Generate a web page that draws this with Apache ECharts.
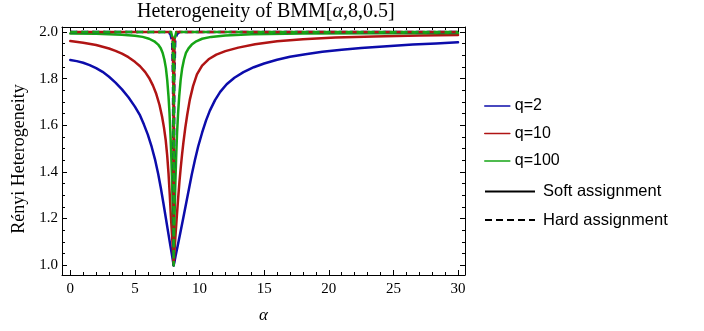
<!DOCTYPE html>
<html><head><meta charset="utf-8">
<script src="https://cdn.jsdelivr.net/npm/echarts@6/dist/echarts.min.js"></script>
<style>html,body{margin:0;padding:0;background:#fff}#c{width:704px;height:331px}</style>
</head><body><div id="c"></div>
<script>
// ---- data ----
const alphaSoftQ2 = [0,0.5,1,1.5,2,2.5,3,3.5,4,4.5,5,5.4,5.7,6.0,6.3,6.55,6.8,7.0,7.2,7.4,7.6,7.75,7.88,7.96,8,
  8.05,8.15,8.3,8.5,8.75,9.0,9.2,9.4,9.65,9.9,10.2,10.5,10.8,11.2,11.6,12.1,12.7,13.4,14.2,15,16,17,18.2,19.5,21,22.5,24.5,26.5,28.3,30];
const softQ2 = [1.880,1.875,1.868,1.858,1.845,1.829,1.808,1.783,1.754,1.720,1.680,1.642,1.603,1.560,1.507,1.455,1.392,1.333,1.268,1.200,1.132,1.082,1.040,1.013,1.0,
  1.012,1.040,1.080,1.135,1.205,1.275,1.332,1.389,1.452,1.510,1.568,1.620,1.663,1.708,1.743,1.776,1.804,1.828,1.849,1.865,1.881,1.894,1.905,1.915,1.924,1.931,1.939,1.946,1.951,1.956];

const alphaSoftQ10 = [0,1,2,3,3.5,4,4.5,5,5.4,5.8,6.1,6.4,6.65,6.9,7.1,7.25,7.38,7.5,7.6,7.7,7.78,7.85,7.92,7.97,8,
  8.03,8.08,8.15,8.25,8.35,8.45,8.55,8.65,8.75,8.9,9.05,9.25,9.5,9.8,10.2,10.7,11.3,12,13,14.3,16,18,20.5,23.5,27,30];
const softQ10 = [1.961,1.954,1.944,1.929,1.919,1.907,1.892,1.872,1.853,1.828,1.803,1.770,1.735,1.688,1.638,1.590,1.538,1.470,1.395,1.300,1.215,1.150,1.085,1.035,1.0,
  1.030,1.075,1.135,1.215,1.290,1.360,1.420,1.475,1.525,1.590,1.645,1.710,1.768,1.818,1.856,1.883,1.903,1.918,1.933,1.947,1.960,1.969,1.976,1.981,1.985,1.987];

const alphaSoftQ100 = [0,2,4,5,5.6,6.1,6.5,6.8,7.0,7.15,7.28,7.4,7.5,7.6,7.68,7.75,7.82,7.88,7.93,7.97,8,
  8.03,8.08,8.13,8.19,8.26,8.34,8.43,8.54,8.66,8.8,8.95,9.15,9.4,9.75,10.2,10.9,12,14,18,24,30];
const softQ100 = [1.993,1.992,1.988,1.984,1.979,1.971,1.960,1.946,1.930,1.910,1.882,1.845,1.795,1.725,1.650,1.565,1.460,1.350,1.240,1.120,1.0,
  1.120,1.240,1.350,1.460,1.565,1.650,1.725,1.795,1.845,1.882,1.910,1.930,1.946,1.960,1.971,1.979,1.985,1.990,1.993,1.995,1.996];

const alphaHardQ2 = [0,7.55,7.75,7.88,7.95,8,8.05,8.12,8.25,8.45,30];
const hardQ2 = [2,2,1.99,1.96,1.8,1.0,1.8,1.96,1.99,2,2];
const alphaHardQ10 = [0,7.8,7.93,7.98,8,8.02,8.07,8.2,30];
const hardQ10 = [2,2,1.97,1.75,1.0,1.75,1.97,2,2];
const alphaHardQ100 = [0,7.8,7.93,7.98,8,8.02,8.07,8.2,30];
const hardQ100 = [2,2,1.97,1.75,1.0,1.75,1.97,2,2];

const xMajorTicks = [0,5,10,15,20,25,30];
const xMinorTicks = [1,2,3,4,6,7,8,9,11,12,13,14,16,17,18,19,21,22,23,24,26,27,28,29];
const yMajorTicks = [1.0,1.2,1.4,1.6,1.8,2.0];
const yMinorTicks = [1.05,1.1,1.15,1.25,1.3,1.35,1.45,1.5,1.55,1.65,1.7,1.75,1.85,1.9,1.95];
const seriesNames = ['q=2','q=10','q=100'];
const styleNames = ['Soft assignment','Hard assignment'];

// ---- styling ----
const X_MIN = -0.64, X_MAX = 30.54, Y_MIN = 0.958, Y_MAX = 2.0214;
const colors = ['#0c0cab','#b01414','#16a516'];
const serif = 'Liberation Serif';
const sans = 'Liberation Sans';
const DASH = [7,4];

function zip(xs, ys){ return xs.map((x,i)=>[x,ys[i]]); }

function xAx(pos, ticks, len, labels, line){
  return {type:'value', min:X_MIN, max:X_MAX, position:pos, offset:0,
    axisLine:{show:line, onZero:false, lineStyle:{color:'#000', width:1}},
    axisTick:{show:true, inside:true, length:len, customValues:ticks, lineStyle:{color:'#000', width:1}},
    axisLabel:{show:labels, customValues:ticks, margin:7, color:'#000', fontFamily:serif, fontSize:15},
    splitLine:{show:false}, minorTick:{show:false}};
}
function yAx(pos, ticks, len, labels, line){
  return {type:'value', min:Y_MIN, max:Y_MAX, position:pos, offset:0,
    axisLine:{show:line, onZero:false, lineStyle:{color:'#000', width:1}},
    axisTick:{show:true, inside:true, length:len, customValues:ticks, lineStyle:{color:'#000', width:1}},
    axisLabel:{show:labels, customValues:ticks, margin:4, color:'#000', fontFamily:serif, fontSize:15,
      formatter:v=>Number(v).toFixed(1)},
    splitLine:{show:false}, minorTick:{show:false}};
}

const xAxes = [
  xAx('bottom', xMajorTicks, 5, true, true),
  xAx('bottom', xMinorTicks, 3, false, false),
  xAx('top', xMajorTicks, 5, false, true),
  xAx('top', xMinorTicks, 3, false, false)
];
Object.assign(xAxes[0], {name:'α', nameLocation:'middle', nameGap:32,
  nameTextStyle:{fontFamily:serif, fontSize:17, fontStyle:'italic', color:'#000'}});
const yAxes = [
  yAx('left', yMajorTicks, 5, true, true),
  yAx('left', yMinorTicks, 3, false, false),
  yAx('right', yMajorTicks, 5, false, true),
  yAx('right', yMinorTicks, 3, false, false)
];
Object.assign(yAxes[0], {name:'Rényi Heterogeneity', nameLocation:'middle', nameGap:33, nameRotate:90,
  nameTextStyle:{fontFamily:serif, fontSize:18, color:'#000', padding:[0,16,0,0]}});

const softData = [zip(alphaSoftQ2, softQ2), zip(alphaSoftQ10, softQ10), zip(alphaSoftQ100, softQ100)];
const hardData = [zip(alphaHardQ2, hardQ2), zip(alphaHardQ10, hardQ10), zip(alphaHardQ100, hardQ100)];

const series = [];
softData.forEach((d,i)=>series.push({name:seriesNames[i], type:'line', data:d, symbol:'none', smooth:false,
  xAxisIndex:0, yAxisIndex:0, color:colors[i], animation:false,
  lineStyle:{color:colors[i], width:2.5, join:'round', cap:'round'}, z:2}));
hardData.forEach((d,i)=>series.push({name:'hard '+seriesNames[i], type:'line', data:d, symbol:'none',
  xAxisIndex:0, yAxisIndex:0, color:colors[i], animation:false,
  lineStyle:{color:colors[i], width:2.5, type:DASH, dashOffset: i===1?5:0, join:'round'}, z:3+i}));
series.push({name:styleNames[0], type:'line', data:[], symbol:'none', color:'#000',
  lineStyle:{color:'#000', width:2.5}});
series.push({name:styleNames[1], type:'line', data:[], symbol:'none', color:'#000',
  lineStyle:{color:'#000', width:2, type:DASH}});

const chart = echarts.init(document.getElementById('c'), null, {renderer:'canvas'});
chart.setOption({
  animation:false,
  backgroundColor:'#fff',
  title:{text:'{n|Heterogeneity of BMM[}{i|α}{n|,8,0.5]}', left:137, top:2, padding:0,
    textStyle:{fontWeight:'normal', rich:{n:{fontFamily:serif, fontSize:20, fontWeight:'normal', color:'#000'},
      i:{fontFamily:serif, fontSize:20, fontWeight:'normal', fontStyle:'italic', color:'#000'}}}},
  grid:{left:62, right:239, top:27, bottom:56, containLabel:false, outerBoundsMode:'none'},
  legend:[
    {data:seriesNames, orient:'vertical', left:484, top:98, padding:0, itemWidth:25, itemHeight:14, itemGap:11.5,
     itemStyle:{opacity:0}, lineStyle:{width:1.6},
     textStyle:{fontFamily:sans, fontSize:16, color:'#000'}, selectedMode:false},
    {data:styleNames, orient:'vertical', left:484, top:183, padding:0, itemWidth:50, itemHeight:14, itemGap:11.5,
     itemStyle:{opacity:0}, textStyle:{fontFamily:sans, fontSize:16.5, color:'#000', padding:[0,0,0,3]}, selectedMode:false}
  ],
  xAxis:xAxes,
  yAxis:yAxes,
  series:series
});
</script>
</body></html>
